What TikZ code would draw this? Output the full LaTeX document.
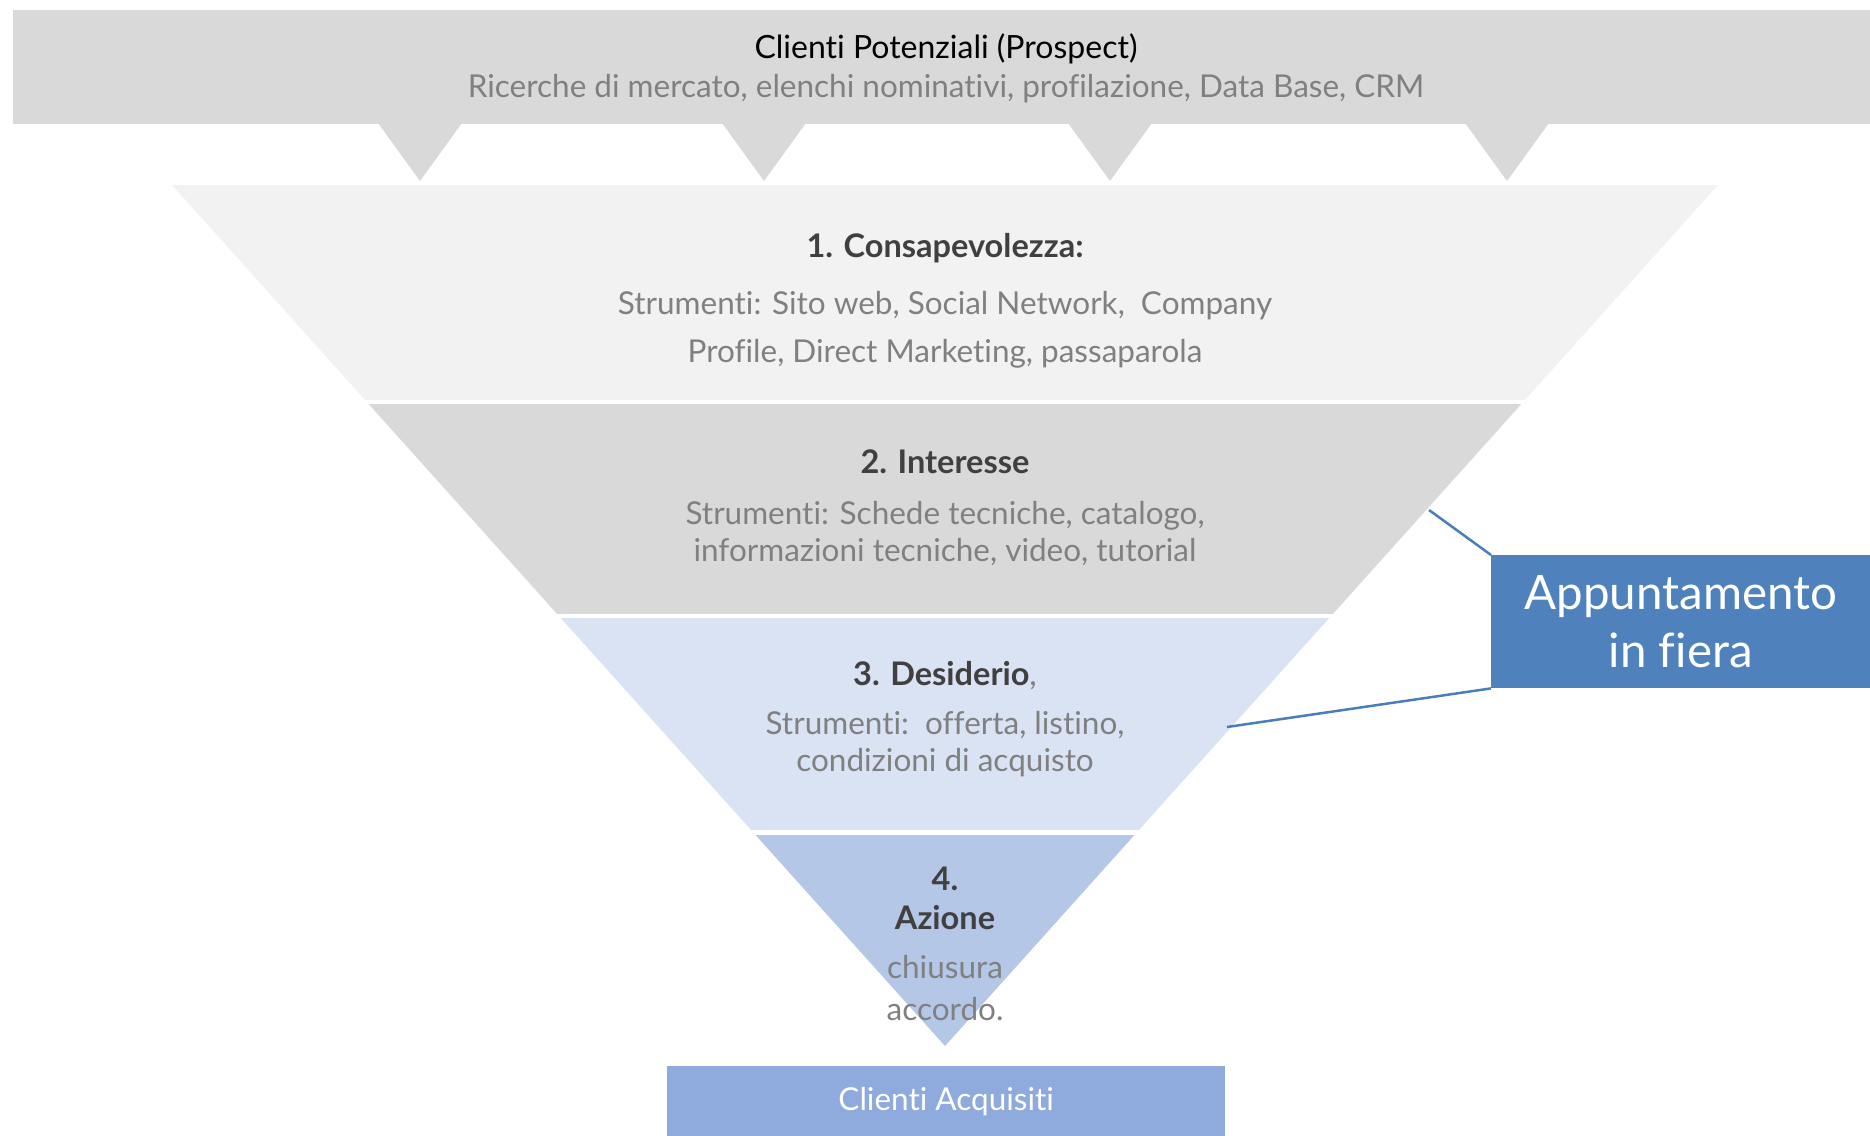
\documentclass[tikz,border=0pt]{standalone}
\usepackage{fontspec}
\setmainfont{Lato}[Ligatures=NoCommon]
\usetikzlibrary{positioning}

\definecolor{bannergray}{HTML}{D9D9D9}
\definecolor{layA}{HTML}{F2F2F2}
\definecolor{layB}{HTML}{D9D9D9}
\definecolor{layC}{HTML}{DAE3F3}
\definecolor{layD}{HTML}{B4C7E7}
\definecolor{acqblue}{HTML}{8FAADC}
\definecolor{fierablue}{HTML}{4F81BD}
\definecolor{linkblue}{HTML}{4A7EBB}
\definecolor{headgray}{HTML}{404040}
\definecolor{bodygray}{HTML}{808080}

\begin{document}
\begin{tikzpicture}[x=1pt,y=-1pt,
    every node/.style={align=center, inner sep=0pt, font=\fontsize{31.5}{37}\selectfont},
    head/.style={text=headgray, font=\fontsize{32.5}{37}\selectfont\bfseries},
    body/.style={text=bodygray},
    box/.style={anchor=north west, text=white}]
    \useasboundingbox (0,0) rectangle (1870,1135);

    % banner in alto
    \fill[bannergray] (13,10) rectangle (1870,124);
    \node[font=\fontsize{32}{37}\selectfont] (prospect) at (946,49) {Clienti Potenziali (Prospect)};
    \node[body] (fonti) at (946,89) {Ricerche di mercato, elenchi nominativi, profilazione, Data Base, CRM};
    \foreach \x in {420,764,1110,1507}
        \fill[bannergray] (\x-42,123) -- (\x+42,123) -- (\x,181) -- cycle;

    % imbuto
    \begin{scope}
        \clip (172,185) -- (1718,185) -- (945,1046) -- cycle;
        \fill[layA] (0,185) rectangle (1870,400);
        \fill[layB] (0,404) rectangle (1870,614);
        \fill[layC] (0,618) rectangle (1870,830);
        \fill[layD] (0,835) rectangle (1870,1046);
    \end{scope}

    \node[head] (consap) at (945,248) {1. Consapevolezza:};
    \node[body, font=\fontsize{31.5}{48}\selectfont] (consapT) at (945,330)
        {Strumenti: Sito web, Social Network,\ \ Company\\Profile, Direct Marketing, passaparola};
    \node[head] (inter) at (945,462) {2. Interesse};
    \node[body] (interT) at (945,534)
        {Strumenti: Schede tecniche, catalogo,\\informazioni tecniche, video, tutorial};
    \node[head] (desid) at (945,676) {3. Desiderio\textmd{\color{bodygray},}};
    \node[body] (desidT) at (945,744) {Strumenti:\ \ offerta, listino,\\condizioni di acquisto};
    \node[head, font=\fontsize{32.5}{39}\selectfont\bfseries] (azione) at (945,898) {4.\\Azione};
    \node[body, font=\fontsize{31.5}{42}\selectfont] (azioneT) at (945,988) {chiusura\\accordo.};

    % uscita
    \node[box, fill=acqblue, minimum width=558, minimum height=70,
        font=\fontsize{31.5}{37}\selectfont] (acquisiti) at (667,1066) {Clienti Acquisiti};

    % appuntamento
    \node[box, fill=fierablue, minimum width=379, minimum height=133,
        font=\fontsize{47.5}{58}\selectfont] (fiera) at (1491,555) {Appuntamento\\in fiera};
    \coordinate (bordoB) at (1429,510);
    \coordinate (bordoC) at (1227,727);
    \draw[linkblue, line width=2.5] (bordoB) -- (fiera.north west);
    \draw[linkblue, line width=2.5] (bordoC) -- (fiera.south west);
\end{tikzpicture}
\end{document}
